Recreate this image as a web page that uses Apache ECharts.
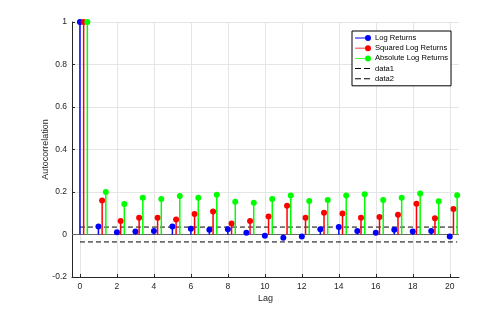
<!DOCTYPE html>
<html><head><meta charset="utf-8">
<script src="https://cdn.jsdelivr.net/npm/echarts@6/dist/echarts.min.js"></script>
<style>html,body{margin:0;padding:0;background:#fff}#c{width:485px;height:314px}</style>
</head><body><div id="c"></div>
<script>
const lags = [0,1,2,3,4,5,6,7,8,9,10,11,12,13,14,15,16,17,18,19,20];
const logReturns = [1,0.038,0.011,0.014,0.016,0.038,0.027,0.022,0.025,0.008,-0.006,-0.015,-0.009,0.025,0.035,0.017,0.008,0.022,0.014,0.017,-0.009];
const squaredLogReturns = [1,0.16,0.064,0.079,0.079,0.071,0.096,0.108,0.052,0.064,0.085,0.135,0.079,0.102,0.099,0.079,0.082,0.093,0.145,0.076,0.12];
const absLogReturns = [1,0.2,0.143,0.173,0.167,0.181,0.173,0.187,0.154,0.15,0.167,0.183,0.158,0.162,0.183,0.189,0.162,0.173,0.193,0.156,0.185];
const confBound = 0.035;
const confRange = [0, 20.4];
const xTicks = [0,2,4,6,8,10,12,14,16,18,20];

const chart = echarts.init(document.getElementById('c'), null, {renderer:'canvas'});
function stem(color){
  return function(params, api){
    const x = api.value(0), y = api.value(1);
    const p = api.coord([x, y]); const b = api.coord([x, 0]);
    return {type:'group', children:[
      {type:'line', shape:{x1:p[0],y1:b[1],x2:p[0],y2:p[1]}, style:{stroke:color, lineWidth:1.5}},
      {type:'circle', shape:{cx:p[0],cy:p[1],r:3}, style:{fill:color}}
    ]};
  };
}
const stemIcon = 'path://M0,2.6L13,2.6L13,3.4L0,3.4Z M13,0A3,3 0 1 1 13,6A3,3 0 1 1 13,0Z';
const dashIcon = 'path://M0,2.5L6,2.5L6,3.5L0,3.5Z M9,2.5L15,2.5L15,3.5L9,3.5Z M16,0L16,0.01L15.99,0Z M16,6L16,5.99L15.99,6Z';
const font = 'Liberation Sans, Arial, sans-serif';
chart.setOption({
  animation:false,
  backgroundColor:'#fff',
  grid:{left:72,right:26,top:22,bottom:37,containLabel:false},
  legend:{
    orient:'vertical', left:352, top:31, itemWidth:16, itemHeight:6, itemGap:2.2,
    padding:[3,3,3,3], backgroundColor:'#fff', borderColor:'#000', borderWidth:1, borderRadius:0,
    textStyle:{fontSize:7.6, color:'#000', fontFamily:font, padding:[0,0,0,-1]},
    data:[
      {name:'Log Returns', icon:stemIcon},
      {name:'Squared Log Returns', icon:stemIcon},
      {name:'Absolute Log Returns', icon:stemIcon},
      {name:'data1', icon:dashIcon},
      {name:'data2', icon:dashIcon}
    ]
  },
  xAxis:{
    type:'value', min:-0.43, max:20.5,
    name:'Lag', nameLocation:'middle', nameGap:17, nameMoveOverlap:false,
    nameTextStyle:{fontSize:9, color:'#262626', fontFamily:font},
    axisLine:{show:true, onZero:false, lineStyle:{color:'#262626', width:1}},
    axisTick:{show:true, inside:true, length:3, customValues:xTicks, lineStyle:{color:'#262626'}},
    axisLabel:{customValues:xTicks, fontSize:8.5, color:'#262626', fontFamily:font, margin:5},
    splitLine:{show:true, lineStyle:{color:'#e5e5e5', width:1}}
  },
  yAxis:{
    type:'value', min:-0.2, max:1, interval:0.2,
    name:'Autocorrelation', nameLocation:'middle', nameGap:22, nameMoveOverlap:false,
    nameTextStyle:{fontSize:9, color:'#262626', fontFamily:font},
    axisLine:{show:true, onZero:false, lineStyle:{color:'#262626', width:1}},
    axisTick:{show:true, inside:true, length:3, lineStyle:{color:'#262626'}},
    axisLabel:{fontSize:8.5, color:'#262626', fontFamily:font, margin:5,
      formatter:function(v){ const r = Math.round(v*10)/10; return String(r); }},
    splitLine:{show:true, lineStyle:{color:'#e5e5e5', width:1}}
  },
  series:[
    {name:'Log Returns', type:'custom', color:'#0000ff', renderItem:stem('#0000ff'), clip:false,
     data:lags.map((l,i)=>[l, logReturns[i]]), z:5,
     markLine:{silent:true, symbol:'none', label:{show:false}, lineStyle:{color:'#666', type:'solid', width:1},
       data:[{yAxis:0}]}},
    {name:'Squared Log Returns', type:'custom', color:'#ff0000', renderItem:stem('#ff0000'), clip:false,
     data:lags.map((l,i)=>[l+0.2, squaredLogReturns[i]]), z:5},
    {name:'Absolute Log Returns', type:'custom', color:'#00ff00', renderItem:stem('#00ff00'), clip:false,
     data:lags.map((l,i)=>[l+0.4, absLogReturns[i]]), z:5},
    {name:'data1', type:'line', color:'#000', symbol:'none', lineStyle:{color:'#000', type:[5,3], width:1},
     data:confRange.map(x=>[x, confBound]), z:4},
    {name:'data2', type:'line', color:'#000', symbol:'none', lineStyle:{color:'#000', type:[5,3], width:1},
     data:confRange.map(x=>[x, -confBound]), z:4}
  ]
});
</script></body></html>
